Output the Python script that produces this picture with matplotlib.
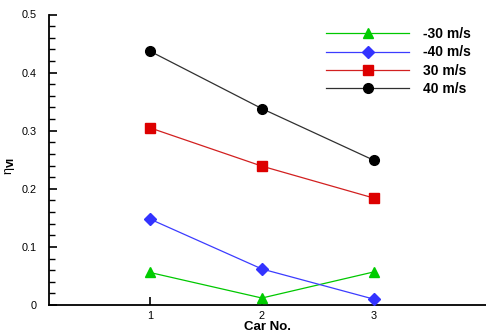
import matplotlib
matplotlib.use("Agg")
import matplotlib.pyplot as plt
from matplotlib.lines import Line2D
from matplotlib.ticker import MultipleLocator

plt.rcParams['font.family'] = ['Liberation Sans', 'DejaVu Sans']

cars = [1, 2, 3]
labels = ['-30 m/s', '-40 m/s', '30 m/s', '40 m/s']
v_m30 = [0.056, 0.012, 0.057]
v_m40 = [0.148, 0.062, 0.010]
v_p30 = [0.305, 0.239, 0.184]
v_p40 = [0.437, 0.338, 0.249]

series = [v_m30, v_m40, v_p30, v_p40]
line_colors = ['#00c800', '#3c3cff', '#d22020', '#303030']
marker_colors = ['#00cc00', '#3333ff', '#dd0000', '#000000']
markers = ['^', 'D', 's', 'o']
msizes = [7, 6, 7, 7]

W, H = 486, 335
fig = plt.figure(figsize=(W / 100, H / 100), dpi=100)
ax = fig.add_axes([49 / W, 1 - 305 / H, 1 - 49 / W, (305 - 14.5) / H])

handles = []
for vals, lc, mc, m, ms, lab in zip(series, line_colors, marker_colors, markers, msizes, labels):
    ax.plot(cars, vals, color=lc, lw=0.9, zorder=2)
    ax.plot(cars, vals, ls='none', marker=m, ms=ms, color=mc, mec=mc, zorder=3)
    handles.append(Line2D([0], [0], color=lc, lw=0.9, marker=m, ms=ms, mfc=mc, mec=mc, label=lab))

ax.set_xlim(0.1, 4.0)
ax.set_ylim(0, 0.5)
ax.set_xticks(cars)
ax.set_xticklabels(['1', '2', '3'])
ax.set_yticks([0, 0.1, 0.2, 0.3, 0.4, 0.5])
ax.set_yticklabels(['0', '0.1', '0.2', '0.3', '0.4', '0.5'])
ax.yaxis.set_minor_locator(MultipleLocator(0.02))

for s in ['top', 'right']:
    ax.spines[s].set_visible(False)
for s in ['left', 'bottom']:
    ax.spines[s].set_linewidth(1.3)

ax.tick_params(axis='x', which='major', direction='in', length=6, width=1.2, labelsize=7.8, pad=4)
ax.tick_params(axis='y', which='major', direction='in', length=6, width=1.2, labelsize=7.8, pad=9)
ax.tick_params(axis='y', which='minor', direction='in', length=4, width=1.0)
ax.tick_params(axis='x', which='minor', length=0)

ax.set_xlabel('Car No.', fontsize=9.5, fontweight='bold', labelpad=0)
ax.set_ylabel('η$_{\\mathbf{VI}}$', fontsize=9)
ax.yaxis.set_label_coords((17 - 49) / 437, 0.48)

leg = fig.legend(handles=handles, loc='upper left', bbox_to_anchor=(326 / W, 1 - 27 / H),
                 frameon=False, handlelength=6.0, handletextpad=0.95, borderpad=0,
                 borderaxespad=0, labelspacing=0.32, prop={'weight': 'bold', 'size': 10})

fig.savefig('out.png', dpi=100)
